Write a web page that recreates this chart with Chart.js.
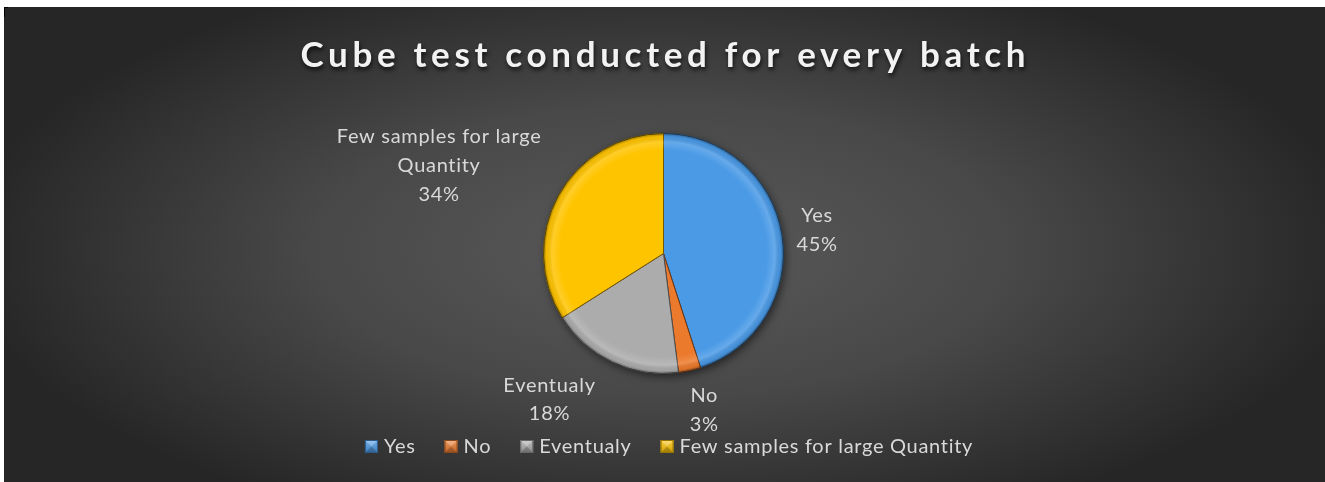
<!DOCTYPE html>
<html><head><meta charset="utf-8">
<script src="https://cdn.jsdelivr.net/npm/chart.js@4.4.1/dist/chart.umd.min.js"></script>
<style>
html,body{margin:0;padding:0;background:#fff;overflow:hidden}
canvas{display:block}
</style></head><body>
<canvas id="c" width="1325" height="482"></canvas>
<script>
// ---- data ----
const titleText = 'Cube test conducted for every batch';
const categories = ['Yes', 'No', 'Eventualy', 'Few samples for large Quantity'];
const labelNameLines = [['Yes'], ['No'], ['Eventualy'], ['Few samples for large', 'Quantity']];
const values = [45, 3, 18, 34];
const sliceColors = ['#4a9ae6', '#ec7a2c', '#acacac', '#ffc400'];

// ---- helpers ----
function shade(hex, f) {
  const n = parseInt(hex.slice(1), 16);
  let r = (n >> 16) & 255, g = (n >> 8) & 255, b = n & 255;
  if (f >= 0) { r += (255 - r) * f; g += (255 - g) * f; b += (255 - b) * f; }
  else { r *= 1 + f; g *= 1 + f; b *= 1 + f; }
  return 'rgb(' + Math.round(r) + ',' + Math.round(g) + ',' + Math.round(b) + ')';
}
const FONT = 'Lato, "Open Sans", sans-serif';
const total = values.reduce((a, b) => a + b, 0);

// label block positions relative to pie centre, in units of radius (x centre, first baseline)
const labelOffsets = [[1.28, -0.26], [0.34, 1.24], [-0.95, 1.15], [-1.87, -0.92]];

const bgPlugin = {
  id: 'bg',
  beforeDraw(chart) {
    const ctx = chart.ctx, W = chart.width, H = chart.height;
    ctx.save();
    ctx.fillStyle = '#fff';
    ctx.fillRect(0, 0, W, H);
    const x0 = 4, y0 = 7, w = W - x0, h = H - y0;
    ctx.beginPath(); ctx.rect(x0, y0, w, h); ctx.clip();
    ctx.translate(663, 250);
    ctx.scale(1, 0.42);
    const g = ctx.createRadialGradient(0, 0, 0, 0, 0, 700);
    g.addColorStop(0, '#5a5a5a');
    g.addColorStop(0.5, '#484848');
    g.addColorStop(1, '#262626');
    ctx.fillStyle = g;
    ctx.fillRect(-800, -800, 1600, 1600);
    ctx.restore();
    ctx.save();
    ctx.strokeStyle = '#000';
    ctx.lineWidth = 1;
    ctx.beginPath(); ctx.moveTo(4.5, 17); ctx.lineTo(4.5, 7.5); ctx.lineTo(8, 7.5); ctx.stroke();
    ctx.restore();
  }
};

const shadowPlugin = {
  id: 'pieShadow',
  beforeDatasetsDraw(chart) {
    const arc = chart.getDatasetMeta(0).data[0];
    if (!arc) return;
    const ctx = chart.ctx;
    ctx.save();
    ctx.shadowColor = 'rgba(0,0,0,0.55)';
    ctx.shadowBlur = 8;
    ctx.shadowOffsetX = 2;
    ctx.shadowOffsetY = 3;
    ctx.fillStyle = '#3a3a3a';
    ctx.beginPath();
    ctx.arc(arc.x, arc.y, arc.outerRadius, 0, Math.PI * 2);
    ctx.fill();
    ctx.restore();
  },
  afterDatasetsDraw(chart) {
    const arc = chart.getDatasetMeta(0).data[0];
    if (!arc) return;
    const ctx = chart.ctx, R = arc.outerRadius;
    ctx.save();
    const g = ctx.createRadialGradient(arc.x, arc.y, 0, arc.x, arc.y, R);
    g.addColorStop(0, 'rgba(255,255,255,0)');
    g.addColorStop(0.86, 'rgba(255,255,255,0)');
    g.addColorStop(0.93, 'rgba(255,255,255,0.16)');
    g.addColorStop(0.975, 'rgba(0,0,0,0.05)');
    g.addColorStop(1, 'rgba(0,0,0,0.35)');
    ctx.fillStyle = g;
    ctx.beginPath();
    ctx.arc(arc.x, arc.y, R, 0, Math.PI * 2);
    ctx.fill();
    ctx.restore();
  }
};

const textPlugin = {
  id: 'texts',
  afterDraw(chart) {
    const ctx = chart.ctx;
    const meta = chart.getDatasetMeta(0);
    const a0 = meta.data[0];
    ctx.save();
    // title
    ctx.font = 'bold 35px ' + FONT;
    ctx.textBaseline = 'alphabetic';
    ctx.textAlign = 'left';
    ctx.letterSpacing = '0px';
    const raw = ctx.measureText(titleText).width;
    const targetW = 725;
    const ls = (targetW - raw) / (titleText.length - 1);
    ctx.letterSpacing = ls + 'px';
    ctx.shadowColor = 'rgba(0,0,0,0.7)';
    ctx.shadowBlur = 4;
    ctx.shadowOffsetX = 1;
    ctx.shadowOffsetY = 3;
    ctx.fillStyle = '#f2f2f2';
    ctx.fillText(titleText, 663 - targetW / 2, 67);
    ctx.restore();

    // data labels
    ctx.save();
    ctx.font = '20px ' + FONT;
    ctx.letterSpacing = '0.7px';
    ctx.fillStyle = '#d9d9d9';
    ctx.textAlign = 'center';
    ctx.textBaseline = 'alphabetic';
    const R = a0.outerRadius;
    meta.data.forEach((arc, i) => {
      const pct = Math.round(values[i] / total * 100) + '%';
      const lines = labelNameLines[i].concat([pct]);
      const cx = arc.x + labelOffsets[i][0] * R;
      let y = arc.y + labelOffsets[i][1] * R;
      lines.forEach(l => { ctx.fillText(l, cx, y); y += 28.8; });
    });
    ctx.restore();

    // legend
    ctx.save();
    ctx.font = '20px ' + FONT;
    ctx.letterSpacing = '0.7px';
    ctx.textBaseline = 'alphabetic';
    ctx.textAlign = 'left';
    const box = 13, gap = 6, itemGap = 29;
    const widths = categories.map(c => box + gap + ctx.measureText(c).width);
    const totalW = widths.reduce((a, b) => a + b, 0) + itemGap * (categories.length - 1);
    let x = 669 - totalW / 2;
    const by = 440, base = 453;
    categories.forEach((c, i) => {
      const col = sliceColors[i];
      const g = ctx.createLinearGradient(x, by, x, by + box);
      g.addColorStop(0, shade(col, 0.25));
      g.addColorStop(1, shade(col, -0.2));
      ctx.fillStyle = g;
      ctx.fillRect(x, by, box, box);
      ctx.fillStyle = 'rgba(255,255,255,0.25)';
      ctx.beginPath(); ctx.moveTo(x, by); ctx.lineTo(x + box, by); ctx.lineTo(x + box / 2, by + box / 2); ctx.closePath(); ctx.fill();
      ctx.fillStyle = 'rgba(0,0,0,0.2)';
      ctx.beginPath(); ctx.moveTo(x, by + box); ctx.lineTo(x + box, by + box); ctx.lineTo(x + box / 2, by + box / 2); ctx.closePath(); ctx.fill();
      ctx.strokeStyle = shade(col, -0.4);
      ctx.lineWidth = 1;
      ctx.strokeRect(x + 0.5, by + 0.5, box - 1, box - 1);
      ctx.fillStyle = '#d9d9d9';
      ctx.fillText(c, x + box + gap, base);
      x += widths[i] + itemGap;
    });
    ctx.restore();
  }
};

function sliceFill(context) {
  const chart = context.chart;
  const col = sliceColors[context.dataIndex];
  const el = context.element;
  if (!chart.chartArea || !el || !el.outerRadius) return col;
  const ctx = chart.ctx;
  const R = el.outerRadius;
  const g = ctx.createLinearGradient(el.x, el.y - R, el.x, el.y + R);
  g.addColorStop(0, shade(col, 0.1));
  g.addColorStop(0.5, col);
  g.addColorStop(1, shade(col, -0.2));
  return g;
}

new Chart(document.getElementById('c'), {
  type: 'pie',
  data: {
    labels: categories,
    datasets: [{
      data: values,
      backgroundColor: sliceFill,
      borderColor: sliceColors.map(c => shade(c, -0.55)),
      borderWidth: 1
    }]
  },
  options: {
    responsive: false,
    animation: false,
    layout: { padding: { top: 133, bottom: 108, left: 2, right: 0 } },
    plugins: { legend: { display: false }, title: { display: false }, tooltip: { enabled: false } }
  },
  plugins: [bgPlugin, shadowPlugin, textPlugin]
});
</script>
</body></html>
